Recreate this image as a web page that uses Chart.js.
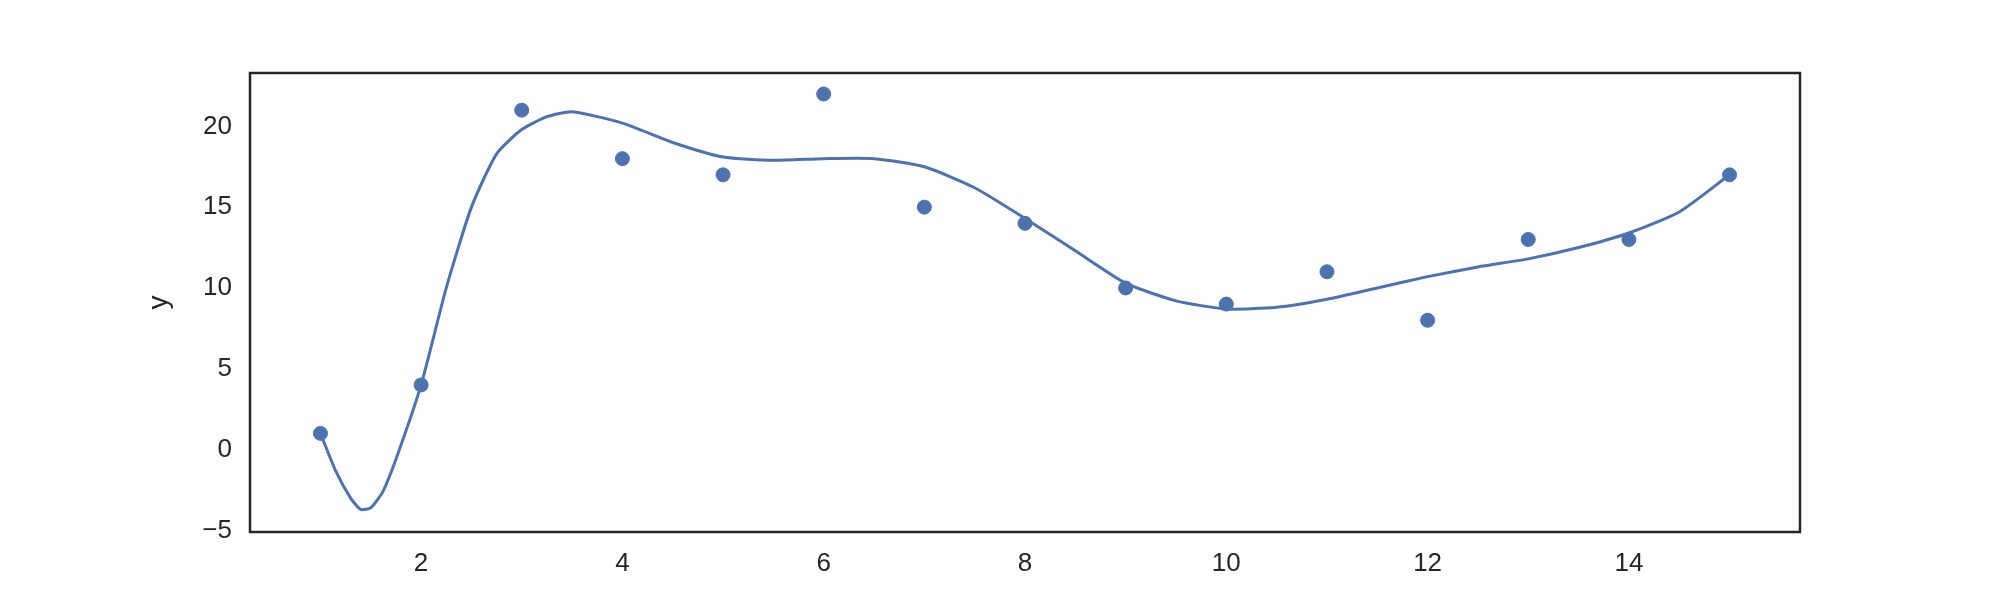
<!DOCTYPE html>
<html>
<head>
<meta charset="utf-8">
<script src="https://cdn.jsdelivr.net/npm/chart.js@4/dist/chart.umd.min.js"></script>
<style>
  html, body { margin: 0; padding: 0; background: #fff; }
  canvas { display: block; }
</style>
</head>
<body>
<canvas id="grafico" width="2000" height="600"></canvas>
<script>
// observed points
const pontosX = [1, 2, 3, 4, 5, 6, 7, 8, 9, 10, 11, 12, 13, 14, 15];
const pontosY = [1, 4, 21, 18, 17, 22, 15, 14, 10, 9, 11, 8, 13, 13, 17];

// fitted curve
const curvaX = [1, 1.15, 1.3, 1.4, 1.5, 1.62, 1.75, 2, 2.25, 2.5, 2.75, 3, 3.25, 3.5, 4, 4.5, 5, 5.5, 6, 6.5, 7, 7.5, 8, 8.5, 9, 9.5, 10, 10.5, 11, 11.5, 12, 12.5, 13, 13.5, 14, 14.5, 15];
const curvaY = [1, -1.3, -3.0, -3.7, -3.6, -2.6, -0.6, 4, 10, 15, 18.3, 19.8, 20.6, 20.9, 20.2, 19, 18.1, 17.9, 18.0, 18.0, 17.5, 16.2, 14.3, 12.3, 10.3, 9.2, 8.7, 8.8, 9.3, 10.0, 10.7, 11.3, 11.8, 12.5, 13.4, 14.7, 17];

const ticksX = [2, 4, 6, 8, 10, 12, 14];
const ticksY = [-5, 0, 5, 10, 15, 20];

const cor = '#4c72b0';
const fonte = { family: 'Liberation Sans, Arial, sans-serif', size: 26 };

const moldura = {
  id: 'moldura',
  afterDraw(chart) {
    const { ctx, chartArea: a } = chart;
    ctx.save();
    ctx.strokeStyle = '#262626';
    ctx.lineWidth = 2.5;
    ctx.strokeRect(a.left, a.top, a.right - a.left, a.bottom - a.top);
    ctx.restore();
  }
};

new Chart(document.getElementById('grafico').getContext('2d'), {
  type: 'scatter',
  data: {
    datasets: [
      {
        type: 'line',
        data: curvaX.map((x, i) => ({ x, y: curvaY[i] })),
        borderColor: cor,
        borderWidth: 3,
        pointRadius: 0,
        tension: 0.2,
        fill: false
      },
      {
        data: pontosX.map((x, i) => ({ x, y: pontosY[i] })),
        backgroundColor: cor,
        borderColor: cor,
        pointRadius: 7
      }
    ]
  },
  options: {
    responsive: false,
    animation: false,
    layout: { padding: { top: 73, right: 200, left: 142, bottom: 0 } },
    plugins: { legend: { display: false }, tooltip: { enabled: false } },
    scales: {
      x: {
        type: 'linear',
        min: 0.3,
        max: 15.7,
        grid: { display: false },
        border: { display: false },
        afterBuildTicks: s => { s.ticks = ticksX.map(v => ({ value: v })); },
        afterFit: s => { s.height = 68; },
        ticks: { color: '#262626', font: fonte, padding: 8 }
      },
      y: {
        min: -5.1,
        max: 23.3,
        grid: { display: false },
        border: { display: false },
        afterBuildTicks: s => { s.ticks = ticksY.map(v => ({ value: v })); },
        afterFit: s => { s.width = 108; },
        title: { display: true, text: 'y', color: '#262626', font: { ...fonte, size: 28 }, padding: 0 },
        ticks: {
          color: '#262626',
          font: fonte,
          padding: 10,
          callback: v => String(v).replace('-', '\u2212')
        }
      }
    }
  },
  plugins: [moldura]
});
</script>
</body>
</html>
